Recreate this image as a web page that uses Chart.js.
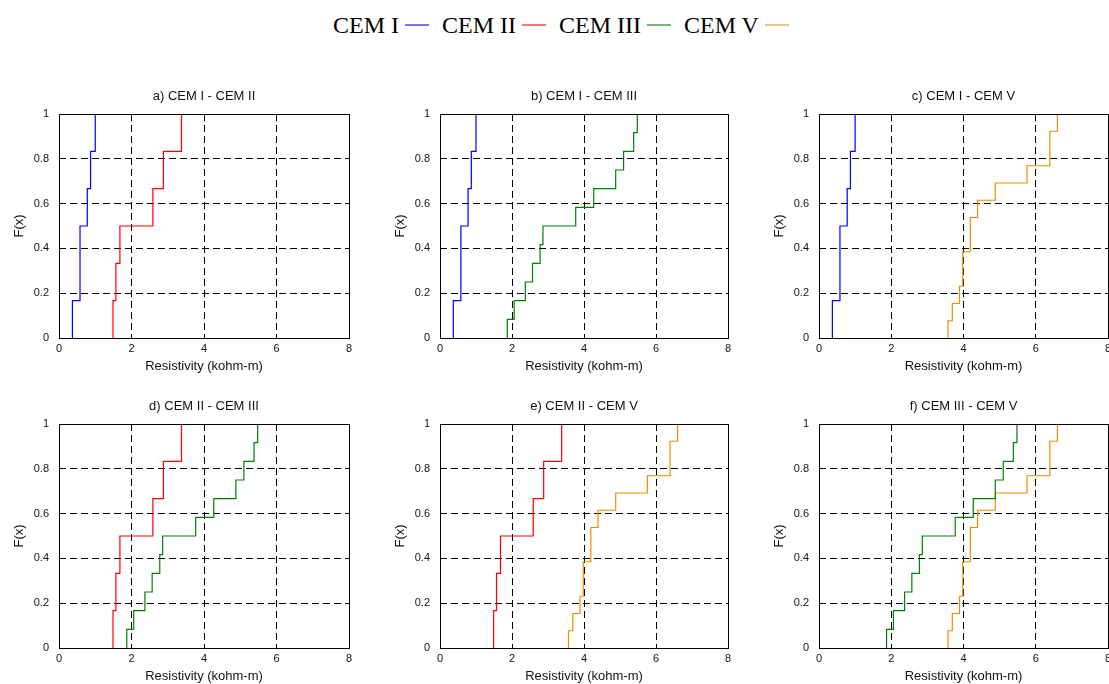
<!DOCTYPE html>
<html lang="en">
<head>
    <meta charset="UTF-8">
    <title>Empirical CDF of resistivity - CEM types</title>
    <script src="https://cdn.jsdelivr.net/npm/chart.js"></script>
    <style>
        html, body { margin: 0; padding: 0; background: #fff; overflow: hidden; width: 1109px; height: 684px; }
        canvas { position: absolute; }
        #legend {
            position: absolute; left: 333px; top: 13px;
            display: flex; align-items: center; white-space: nowrap;
            font-family: 'Liberation Serif', 'Times New Roman', serif;
            font-size: 24px; line-height: 24px; color: #000;
        }
        #legend .sw { display: block; flex: none; width: 24px; height: 2px; margin: 0 13px 0 6px; opacity: 0.55; }
    </style>
</head>
<body>

    <div id="legend"></div>

    <script>
        // series names / colours
        const seriesNames = ['CEM I', 'CEM II', 'CEM III', 'CEM V'];
        const seriesColors = ['#0000ff', '#ff0000', '#008000', '#ee8c00'];

        // step positions (kohm-m) and F(x) levels
        const cemI_x = [0.37, 0.58, 0.78, 0.87, 1.00];
        const cemI_F = [0.167, 0.5, 0.667, 0.833, 1];

        const cemII_x = [1.49, 1.57, 1.68, 2.59, 2.88, 3.38];
        const cemII_F = [0.167, 0.333, 0.5, 0.667, 0.833, 1];

        const cemIII_x = [1.87, 2.06, 2.37, 2.57, 2.78, 2.86, 3.77, 4.27, 4.88, 5.10, 5.38, 5.48];
        const cemIII_F = [0.083, 0.167, 0.25, 0.333, 0.417, 0.5, 0.583, 0.667, 0.75, 0.833, 0.917, 1];

        const cemV_x = [3.57, 3.69, 3.89, 3.98, 4.19, 4.39, 4.88, 5.76, 6.39, 6.60];
        const cemV_F = [0.077, 0.154, 0.231, 0.385, 0.538, 0.615, 0.692, 0.769, 0.923, 1];

        const panelTitles = ['a) CEM I - CEM II', 'b) CEM I - CEM III', 'c) CEM I - CEM V',
                             'd) CEM II - CEM III', 'e) CEM II - CEM V', 'f) CEM III - CEM V'];
        const panelPairs = [[0, 1], [0, 2], [0, 3], [1, 2], [1, 3], [2, 3]];

        const xTicks = [0, 2, 4, 6, 8];
        const yTicks = [0, 0.2, 0.4, 0.6, 0.8, 1];

        const stepX = [cemI_x, cemII_x, cemIII_x, cemV_x];
        const stepF = [cemI_F, cemII_F, cemIII_F, cemV_F];

        // legend (text then a short line, like the original figure)
        const legend = document.getElementById('legend');
        seriesNames.forEach((name, i) => {
            const t = document.createElement('span');
            t.textContent = name;
            const sw = document.createElement('span');
            sw.className = 'sw';
            sw.style.backgroundColor = seriesColors[i];
            legend.appendChild(t);
            legend.appendChild(sw);
        });

        Chart.defaults.font.family = "'Liberation Sans', Arial, sans-serif";
        Chart.defaults.color = '#111';

        // ecdf starts at (x0, 0) then climbs step by step
        function ecdfPoints(s) {
            const pts = [{ x: stepX[s][0], y: 0 }];
            stepX[s].forEach((v, i) => pts.push({ x: v, y: stepF[s][i] }));
            return pts;
        }

        // solid box round the axes
        const frame = {
            id: 'frame',
            afterDatasetsDraw(chart) {
                const a = chart.chartArea, c = chart.ctx;
                const px = v => Math.round(v - 0.5) + 0.5;
                c.save();
                c.strokeStyle = '#000';
                c.lineWidth = 1;
                c.strokeRect(px(a.left), px(a.top), px(a.right) - px(a.left), px(a.bottom) - px(a.top));
                c.restore();
            }
        };

        const cols = [{ l: 59, r: 349 }, { l: 440, r: 728 }, { l: 819, r: 1108 }];
        const rowTops = [80, 390];

        panelTitles.forEach((title, p) => {
            const col = cols[p % 3];
            const cv = document.createElement('canvas');
            const left = col.l - 59;
            cv.width = col.r - left + 21;
            cv.height = 300;
            cv.style.left = left + 'px';
            cv.style.top = rowTops[Math.floor(p / 3)] + 'px';
            document.body.appendChild(cv);

            const gridColor = edge => c => (c.tick && edge.includes(c.tick.value)) ? 'rgba(0,0,0,0)' : '#000';

            new Chart(cv.getContext('2d'), {
                type: 'line',
                data: {
                    datasets: panelPairs[p].map(s => ({
                        label: seriesNames[s],
                        data: ecdfPoints(s),
                        borderColor: seriesColors[s],
                        borderWidth: 1.2,
                        pointRadius: 0,
                        stepped: true,
                        fill: false
                    }))
                },
                options: {
                    responsive: false,
                    animation: false,
                    devicePixelRatio: 1,
                    layout: { padding: { left: 0, right: 21, top: 0, bottom: 0 } },
                    plugins: {
                        legend: { display: false },
                        tooltip: { enabled: false },
                        title: {
                            display: true,
                            fullSize: false,
                            text: title,
                            color: '#111',
                            font: { size: 13, weight: 'normal' },
                            padding: { top: 9, bottom: 9.4 }
                        }
                    },
                    scales: {
                        x: {
                            type: 'linear', min: 0, max: 8,
                            afterBuildTicks: s => { s.ticks = xTicks.map(v => ({ value: v })); },
                            ticks: { font: { size: 11 }, padding: 4, maxRotation: 0 },
                            grid: { color: gridColor([0, 8]), drawTicks: false, lineWidth: 1 },
                            border: { display: false, dash: [7, 4] },
                            title: { display: true, text: 'Resistivity (kohm-m)', font: { size: 13 }, padding: { top: 0, bottom: 5.4 } },
                            afterFit: s => { s.height = 42; }
                        },
                        y: {
                            type: 'linear', min: 0, max: 1,
                            afterBuildTicks: s => { s.ticks = yTicks.map(v => ({ value: v })); },
                            ticks: { font: { size: 11 }, padding: 10, callback: v => String(+v.toFixed(1)) },
                            grid: { color: gridColor([0, 1]), drawTicks: false, lineWidth: 1 },
                            border: { display: false, dash: [7, 4] },
                            title: { display: true, text: 'F(x)', font: { size: 13 }, padding: { top: 12, bottom: 0 } },
                            afterFit: s => { s.width = 59; }
                        }
                    }
                },
                plugins: [frame]
            });
        });
    </script>

</body>
</html>
